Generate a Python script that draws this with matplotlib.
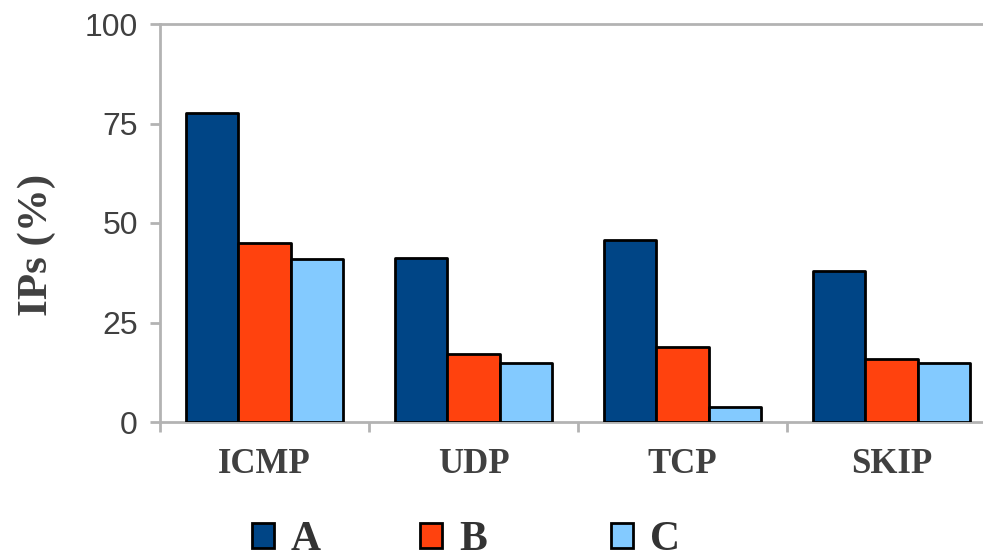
import matplotlib as mpl
import matplotlib.pyplot as plt
import numpy as np
from matplotlib.ticker import FixedLocator

mpl.use("Agg")

categories = ["ICMP", "UDP", "TCP", "SKIP"]
series_names = ["A", "B", "C"]
values_a = [77.7, 41.1, 45.7, 37.9]
values_b = [45.1, 17.1, 18.9, 15.8]
values_c = [41.0, 14.7, 3.8, 14.7]
y_ticks = [0, 25, 50, 75, 100]

colors = ["#004586", "#ff420e", "#83caff"]
axis_grey = "#b3b3b3"
text_grey = "#404040"

fig = plt.figure(figsize=(9.83, 5.55), dpi=100)
ax = fig.add_axes([160 / 983, 133 / 555, 823 / 983, 398 / 555])

x = np.arange(len(categories))
width = 0.25
bars = []
for i, (vals, name, col) in enumerate(zip([values_a, values_b, values_c], series_names, colors)):
    b = ax.bar(
        x + (i - 1) * width,
        vals,
        width,
        color=col,
        edgecolor="black",
        linewidth=2.0,
        joinstyle="round",
        label=name,
        zorder=3,
    )
    bars.append(b)

ax.set_ylim(0, 100)
ax.set_xlim(-0.5, -0.5 + 823 / 209)

# category boundaries carry the tick marks, names sit at the centres
ax.set_xticks(x)
ax.set_xticklabels(categories)
ax.xaxis.set_minor_locator(FixedLocator(np.arange(-0.5, len(categories), 1.0)))
ax.tick_params(axis="x", which="major", length=0, pad=19)
ax.tick_params(axis="x", which="minor", length=7, width=2, color=axis_grey)
for lbl in ax.get_xticklabels():
    lbl.set_fontfamily("Liberation Serif")
    lbl.set_fontweight("bold")
    lbl.set_fontsize(25)
    lbl.set_color(text_grey)

ax.set_yticks(y_ticks)
ax.tick_params(axis="y", length=7, width=2, color=axis_grey, pad=9,
               labelsize=23, labelcolor=text_grey)
for lbl in ax.get_yticklabels():
    lbl.set_fontfamily("Liberation Sans")

for side in ["left", "bottom", "top"]:
    ax.spines[side].set_color(axis_grey)
    ax.spines[side].set_linewidth(2)
ax.spines["right"].set_visible(False)

ax.set_ylabel("IPs (%)", fontfamily="Liberation Serif", fontweight="bold",
              fontsize=31, color=text_grey)
ax.yaxis.set_label_coords(-123 / 823, 0.445)
ax.yaxis.label.set_va("center")

# one legend entry per series, each placed on its own
legend_x = [252, 420, 611]
for b, name, lx in zip(bars, series_names, legend_x):
    leg = fig.legend(
        handles=[b],
        labels=[name],
        loc="center left",
        bbox_to_anchor=(lx / 983, 1 - 540 / 555),
        frameon=False,
        borderpad=0,
        borderaxespad=0,
        prop={"family": "Liberation Serif", "weight": "bold", "size": 30},
        handlelength=0.53,
        handleheight=0.53,
        handletextpad=0.4,
    )
    for t in leg.get_texts():
        t.set_color("#333333")

fig.savefig("out.png", dpi=100, facecolor="white")
